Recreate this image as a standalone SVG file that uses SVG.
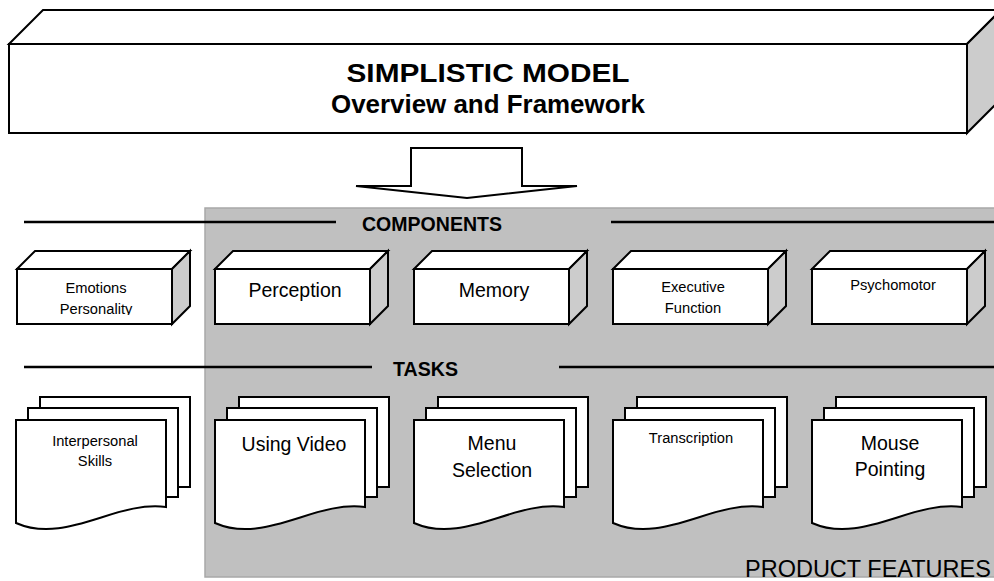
<svg xmlns="http://www.w3.org/2000/svg" width="994" height="581" viewBox="0 0 994 581">
  <style>
    .face { fill: #fff; stroke: #000; stroke-width: 2; stroke-linejoin: miter; }
    .side { fill: #cccccc; stroke: #000; stroke-width: 2; stroke-linejoin: miter; }
    .rule { stroke: #000; stroke-width: 2.5; }
    text { font-family: "Liberation Sans", Arial, Helvetica, sans-serif; fill: #000; }
    .title { font-size: 26px; font-weight: bold; text-anchor: middle; }
    .head { font-size: 19.5px; font-weight: bold; }
    .big { font-size: 19.5px; text-anchor: middle; }
    .small { font-size: 14.7px; text-anchor: middle; }
  </style>
  <defs>
    <!-- 3D block: front face 155x55, depth 18 -->
    <g id="block">
      <polygon class="face" points="0,18 18,0 173,0 155,18"/>
      <polygon class="side" points="155,18 173,0 173,55 155,73"/>
      <rect class="face" x="0" y="18" width="155" height="55"/>
    </g>
    <!-- stack of three pages with a wavy bottom on the front page -->
    <g id="pages">
      <rect class="face" x="24" y="-23" width="150" height="90"/>
      <rect class="face" x="12" y="-12" width="150" height="89"/>
      <path class="face" d="M0,0 H150 V87 C100,80 50,125 0,103 Z"/>
    </g>
    <clipPath id="clipEmo">
      <rect x="0" y="270" width="200" height="45"/>
    </clipPath>
  </defs>

  <!-- shaded product-features area -->
  <rect id="features-area" x="205" y="208" width="795" height="369" fill="#c0c0c0" stroke="#a8a8a8" stroke-width="1.5"/>

  <!-- header block -->
  <g id="model-header">
    <polygon class="face" points="9,44 43,10 1001,10 967,44"/>
    <polygon class="side" points="967,44 1001,10 1001,99 967,133" fill="#d0d0d0"/>
    <rect class="face" x="9" y="44" width="958" height="89"/>
    <text class="title" x="488" y="82" textLength="283" lengthAdjust="spacingAndGlyphs">SIMPLISTIC MODEL</text>
    <text class="title" x="488" y="113" textLength="314" lengthAdjust="spacingAndGlyphs">Overview and Framework</text>
  </g>

  <!-- connectors: block arrow and section rules -->
  <g id="connectors">
    <path class="face" d="M411,148 H522 V186 H577 L467,198 L356,186 H411 Z"/>
    <line class="rule" x1="24" y1="222" x2="336" y2="222"/>
    <line class="rule" x1="611" y1="222" x2="994" y2="222"/>
    <line class="rule" x1="24" y1="367" x2="372" y2="367"/>
    <line class="rule" x1="559" y1="367" x2="994" y2="367"/>
  </g>

  <g id="label-components">
    <text class="head" x="362" y="231" textLength="140" lengthAdjust="spacingAndGlyphs">COMPONENTS</text>
  </g>
  <g id="label-tasks">
    <text class="head" x="393" y="376" textLength="65" lengthAdjust="spacingAndGlyphs">TASKS</text>
  </g>

  <!-- component blocks -->
  <g id="comp-emotions">
    <use href="#block" x="17" y="251"/>
    <text class="small" x="96" y="293">Emotions</text>
    <text class="small" x="96" y="314" clip-path="url(#clipEmo)">Personality</text>
  </g>
  <g id="comp-perception">
    <use href="#block" x="215" y="251"/>
    <text class="big" x="295" y="297">Perception</text>
  </g>
  <g id="comp-memory">
    <use href="#block" x="414" y="251"/>
    <text class="big" x="494" y="297">Memory</text>
  </g>
  <g id="comp-executive">
    <use href="#block" x="613" y="251"/>
    <text class="small" x="693" y="292">Executive</text>
    <text class="small" x="693" y="313">Function</text>
  </g>
  <g id="comp-psychomotor">
    <use href="#block" x="812" y="251"/>
    <text class="small" x="893" y="290">Psychomotor</text>
  </g>

  <!-- task page stacks -->
  <g id="task-interpersonal">
    <use href="#pages" x="16" y="420"/>
    <text class="small" x="95" y="446">Interpersonal</text>
    <text class="small" x="95" y="466">Skills</text>
  </g>
  <g id="task-video">
    <use href="#pages" x="215" y="420"/>
    <text class="big" x="294" y="451">Using Video</text>
  </g>
  <g id="task-menu">
    <use href="#pages" x="414" y="420"/>
    <text class="big" x="492" y="450">Menu</text>
    <text class="big" x="492" y="477">Selection</text>
  </g>
  <g id="task-transcription">
    <use href="#pages" x="613" y="420"/>
    <text class="small" x="691" y="443">Transcription</text>
  </g>
  <g id="task-mouse">
    <use href="#pages" x="812" y="420"/>
    <text class="big" x="890" y="450">Mouse</text>
    <text class="big" x="890" y="476">Pointing</text>
  </g>

  <g id="label-product-features">
    <text x="745" y="577" font-size="23.5">PRODUCT FEATURES</text>
  </g>
</svg>
